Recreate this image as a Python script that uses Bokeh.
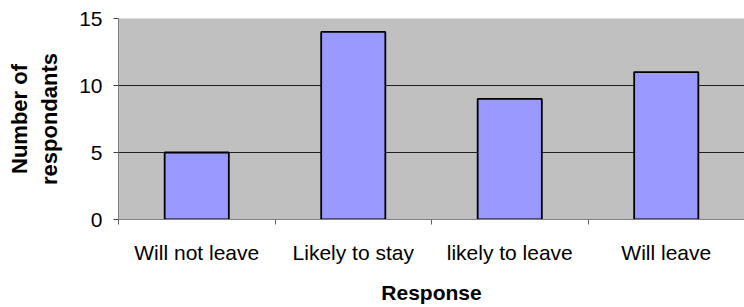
from bokeh.plotting import figure
from bokeh.models import Range1d, FixedTicker, ColumnDataSource
from bokeh.embed import file_html
from bokeh.resources import INLINE

categories = ["Will not leave", "Likely to stay", "likely to leave", "Will leave"]
counts = [5, 14, 9, 11]
y_ticks = [0, 5, 10, 15]
y_max = 15

x = [i + 0.5 for i in range(len(categories))]
src = ColumnDataSource(dict(x=x, top=counts, cat=categories))

p = figure(width=744, height=307, output_backend="svg", toolbar_location=None,
           x_range=Range1d(0, len(categories)), y_range=Range1d(0, y_max),
           min_border_left=118, min_border_right=0, min_border_top=18,
           min_border_bottom=88)
p.background_fill_color = "#C0C0C0"
p.border_fill_color = "white"
p.outline_line_color = None

p.vbar(x="x", top="top", width=0.41, bottom=0, source=src,
       fill_color="#9999FF", line_color="black", line_width=1.8)

FONT = "Liberation Sans"

# x axis
p.xaxis.ticker = FixedTicker(ticks=x, minor_ticks=list(range(len(categories) + 1)))
p.xaxis.major_label_overrides = {xi: c for xi, c in zip(x, categories)}
p.xaxis.major_tick_out = 0
p.xaxis.major_tick_in = 0
p.xaxis.minor_tick_out = 5
p.xaxis.minor_tick_in = 0
p.xaxis.minor_tick_line_color = "#606060"
p.xaxis.axis_line_color = "#808080"
p.xaxis.major_label_text_font = FONT
p.xaxis.major_label_text_font_size = "21px"
p.xaxis.major_label_text_color = "black"
p.xaxis.major_label_standoff = 16
p.xaxis.axis_label = "Response"
p.xaxis.axis_label_text_font = FONT
p.xaxis.axis_label_text_font_style = "bold"
p.xaxis.axis_label_text_font_size = "21px"
p.xaxis.axis_label_text_color = "black"
p.xaxis.axis_label_standoff = 14

# y axis
p.yaxis.ticker = FixedTicker(ticks=y_ticks)
p.yaxis.major_tick_out = 5
p.yaxis.major_tick_in = 0
p.yaxis.minor_tick_out = 0
p.yaxis.major_tick_line_color = "#404040"
p.yaxis.axis_line_color = "#808080"
p.yaxis.major_label_text_font = FONT
p.yaxis.major_label_text_font_size = "21px"
p.yaxis.major_label_text_color = "black"
p.yaxis.major_label_standoff = 11
p.yaxis.axis_label = "Number of\nrespondants"
p.yaxis.axis_label_text_font = FONT
p.yaxis.axis_label_text_font_style = "bold"
p.yaxis.axis_label_text_font_size = "22px"
p.yaxis.axis_label_text_color = "black"
p.yaxis.axis_label_standoff = 14

p.xgrid.visible = False
p.ygrid.ticker = FixedTicker(ticks=y_ticks)
p.ygrid.grid_line_color = "#202020"
p.ygrid.grid_line_width = 1

open("out.html", "w").write(file_html(p, INLINE))
